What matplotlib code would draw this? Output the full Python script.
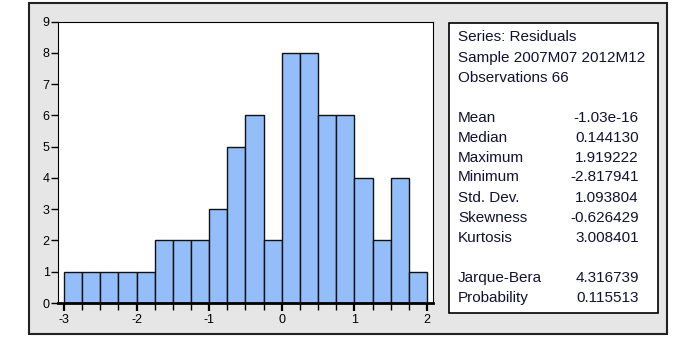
import matplotlib
matplotlib.use("Agg")
import matplotlib.pyplot as plt
from matplotlib.patches import Rectangle
import numpy as np

plt.rcParams["font.family"] = ["Liberation Sans", "DejaVu Sans"]

# Data
bin_left = [-3.0, -2.75, -2.5, -2.25, -2.0, -1.75, -1.5, -1.25, -1.0, -0.75,
            -0.5, -0.25, 0.0, 0.25, 0.5, 0.75, 1.0, 1.25, 1.5, 1.75]
counts = [1, 1, 1, 1, 1, 2, 2, 2, 3, 5, 6, 2, 8, 8, 6, 6, 4, 2, 4, 1]
bin_width = 0.25
x_ticks = [-3, -2, -1, 0, 1, 2]
y_ticks = list(range(10))

stat_header = ["Series: Residuals", "Sample 2007M07 2012M12", "Observations 66"]
stat_names = ["Mean", "Median", "Maximum", "Minimum", "Std. Dev.", "Skewness", "Kurtosis"]
stat_values = ["-1.03e-16", "0.144130", "1.919222", "-2.817941", "1.093804", "-0.626429", "3.008401"]
test_names = ["Jarque-Bera", "Probability"]
test_values = ["4.316739", "0.115513"]

W, H = 675, 344
fig = plt.figure(figsize=(W / 100, H / 100), dpi=100)
fig.patch.set_facecolor("white")

def fx(px):
    return px / W

def fy(py):
    return 1 - py / H

# gray panel
fig.patches.append(Rectangle((fx(29), fy(334)), fx(667) - fx(29), fy(3) - fy(334),
                             transform=fig.transFigure, facecolor="#E6E6E6",
                             edgecolor="#222222", linewidth=1.5, zorder=-10))

# histogram axes
ax = fig.add_axes([fx(58), fy(303), fx(433) - fx(58), fy(21.5) - fy(303)])
ax.set_zorder(5)
ax.set_facecolor("white")
ax.bar(bin_left, counts, width=bin_width, align="edge", color="#94BEFA",
       edgecolor="#111111", linewidth=1.0)
ax.set_xlim(-3.083, 2.083)
ax.set_ylim(0, 9)
ax.set_xticks(x_ticks)
ax.set_xticklabels([str(t) for t in x_ticks])
ax.set_xticks(np.arange(-3, 2.01, 0.25), minor=True)
ax.set_yticks(y_ticks)
ax.set_yticklabels([str(t) for t in y_ticks])
ax.tick_params(axis="x", which="major", direction="out", length=6, width=1.6,
               labelsize=9, pad=2, colors="black")
ax.tick_params(axis="x", which="minor", direction="out", length=5, width=1.0)
ax.tick_params(axis="y", which="major", direction="out", length=5, width=1.0,
               labelsize=9, pad=1)
for s in ["top", "right"]:
    ax.spines[s].set_linewidth(0.8)
ax.spines["left"].set_linewidth(0.8)
ax.spines["bottom"].set_linewidth(2.0)

# stats box
fig.patches.append(Rectangle((fx(449), fy(313)), fx(658) - fx(449), fy(23) - fy(313),
                             transform=fig.transFigure, facecolor="white",
                             edgecolor="black", linewidth=1.2, zorder=-5))
fs = 11
xl = fx(458)
xr = fx(639)
tc = "#111133"
header_y = [37, 58, 78]
for t, y in zip(stat_header, header_y):
    fig.text(xl, fy(y), t, fontsize=fs, va="center", ha="left", color=tc)
stat_y = [118, 138, 158, 177, 198, 218, 238]
for n, v, y in zip(stat_names, stat_values, stat_y):
    fig.text(xl, fy(y), n, fontsize=fs, va="center", ha="left", color=tc)
    fig.text(xr, fy(y), v, fontsize=fs, va="center", ha="right", color=tc)
test_y = [278, 298]
for n, v, y in zip(test_names, test_values, test_y):
    fig.text(xl, fy(y), n, fontsize=fs, va="center", ha="left", color=tc)
    fig.text(xr, fy(y), v, fontsize=fs, va="center", ha="right", color=tc)

fig.savefig("out.png", dpi=100)
